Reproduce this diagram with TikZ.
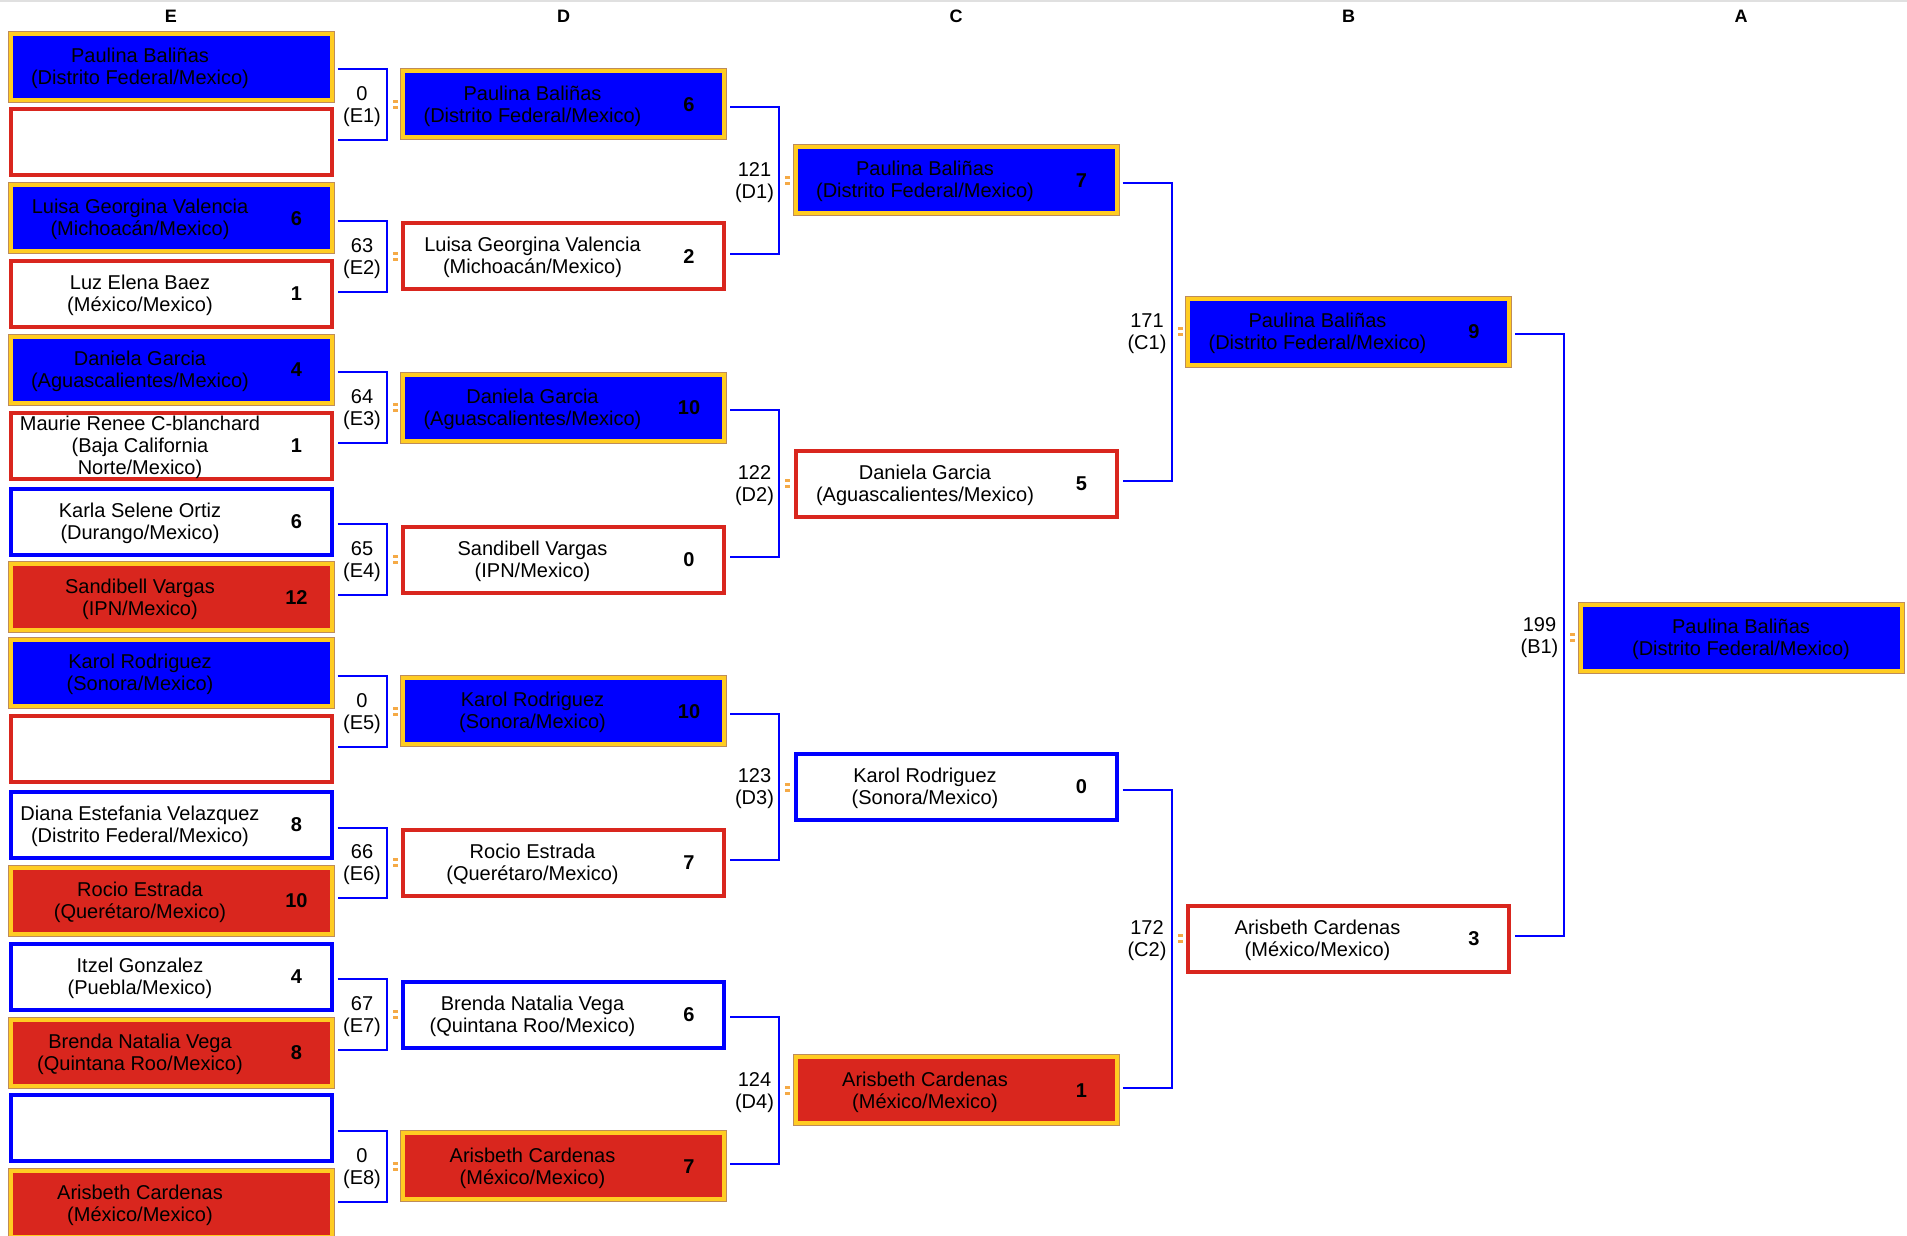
\documentclass[tikz,border=0pt]{standalone}
\usepackage{fontspec}
\setmainfont{Liberation Sans}
\usetikzlibrary{calc}
\definecolor{tkblue}{RGB}{0,0,255}
\definecolor{tkred}{RGB}{217,38,30}
\definecolor{tkgold}{RGB}{255,204,34}
\definecolor{goldedge}{RGB}{190,140,90}
\definecolor{mkorange}{RGB}{245,170,70}
\tikzset{
  box/.style={rectangle, minimum width=321pt, minimum height=66pt, inner sep=0pt, line width=4pt},
  winblue/.style={box, fill=tkblue, draw=tkgold, preaction={draw=goldedge, line width=6pt}},
  winred/.style={box, fill=tkred, draw=tkgold, preaction={draw=goldedge, line width=6pt}},
  loseblue/.style={box, fill=white, draw=tkblue},
  losered/.style={box, fill=white, draw=tkred},
  nm/.style={align=center, inner sep=0pt, font=\fontsize{20}{22}\selectfont, text=black},
  sc/.style={inner sep=0pt, font=\fontsize{20}{22}\selectfont\bfseries, text=black},
  lbl/.style={align=center, inner sep=0pt, font=\fontsize{20}{22}\selectfont, text=black},
  hdr/.style={inner sep=0pt, font=\fontsize{18}{20}\selectfont\bfseries, text=black},
  conn/.style={draw=tkblue, line width=2pt},
  mk/.style={fill=mkorange}
}
\newcommand\plr[6]{%
  \node[#4] (#1) at (#2,#3) {};
  \node[nm] (#1n) at ($(#1.center)+(-31,1.5)$) {#5};
  \node[sc] (#1s) at ($(#1.east)+(-37,0)$) {#6};
}
\newcommand\brk[4]{%
  \draw[conn] ($(#1.east)+(4,2.5)$) -- ($(#1.east)+(53,2.5)$) -- ($(#2.east)+(53,-2.5)$) -- ($(#2.east)+(4,-2.5)$);
  \node[lbl] (#3l) at ($(#1.east)!0.5!(#2.east)+(28.5,2)$) {#4};
  \fill[mk] ($(#3.west)+(-8.5,-4.5)$) rectangle ++(5,3);
  \fill[mk] ($(#3.west)+(-8.5,1.5)$) rectangle ++(5,3);
}
\begin{document}
\begin{tikzpicture}[x=1pt,y=-1pt]
\useasboundingbox (0,0) rectangle (1907,1235);
\fill[white] (0,0) rectangle (1907,1235);
\draw[black!12, line width=1.5pt] (0,0.75) -- (1907,0.75);
% headers
\node[hdr] (hE) at (171,16) {E};
\node[hdr] (hD) at (563.5,16) {D};
\node[hdr] (hC) at (956,16) {C};
\node[hdr] (hB) at (1348.5,16) {B};
\node[hdr] (hA) at (1741,16) {A};
% column E
\plr{E0}{171}{66.5}{winblue}{Paulina Baliñas\\(Distrito Federal/Mexico)}{}
\plr{E1}{171}{142.35}{losered}{}{}
\plr{E2}{171}{218.2}{winblue}{Luisa Georgina Valencia\\(Michoacán/Mexico)}{6}
\plr{E3}{171}{294.05}{losered}{Luz Elena Baez\\(México/Mexico)}{1}
\plr{E4}{171}{369.9}{winblue}{Daniela Garcia\\(Aguascalientes/Mexico)}{4}
\plr{E5}{171}{445.75}{losered}{Maurie Renee C-blanchard\\(Baja California\\Norte/Mexico)}{1}
\plr{E6}{171}{521.6}{loseblue}{Karla Selene Ortiz\\(Durango/Mexico)}{6}
\plr{E7}{171}{597.45}{winred}{Sandibell Vargas\\(IPN/Mexico)}{12}
\plr{E8}{171}{673.3}{winblue}{Karol Rodriguez\\(Sonora/Mexico)}{}
\plr{E9}{171}{749.15}{losered}{}{}
\plr{E10}{171}{825.0}{loseblue}{Diana Estefania Velazquez\\(Distrito Federal/Mexico)}{8}
\plr{E11}{171}{900.85}{winred}{Rocio Estrada\\(Querétaro/Mexico)}{10}
\plr{E12}{171}{976.7}{loseblue}{Itzel Gonzalez\\(Puebla/Mexico)}{4}
\plr{E13}{171}{1052.55}{winred}{Brenda Natalia Vega\\(Quintana Roo/Mexico)}{8}
\plr{E14}{171}{1128.4}{loseblue}{}{}
\plr{E15}{171}{1204.25}{winred}{Arisbeth Cardenas\\(México/Mexico)}{}
% column D
\plr{D0}{563.5}{104.425}{winblue}{Paulina Baliñas\\(Distrito Federal/Mexico)}{6}
\plr{D1}{563.5}{256.125}{losered}{Luisa Georgina Valencia\\(Michoacán/Mexico)}{2}
\plr{D2}{563.5}{407.825}{winblue}{Daniela Garcia\\(Aguascalientes/Mexico)}{10}
\plr{D3}{563.5}{559.525}{losered}{Sandibell Vargas\\(IPN/Mexico)}{0}
\plr{D4}{563.5}{711.225}{winblue}{Karol Rodriguez\\(Sonora/Mexico)}{10}
\plr{D5}{563.5}{862.925}{losered}{Rocio Estrada\\(Querétaro/Mexico)}{7}
\plr{D6}{563.5}{1014.625}{loseblue}{Brenda Natalia Vega\\(Quintana Roo/Mexico)}{6}
\plr{D7}{563.5}{1166.325}{winred}{Arisbeth Cardenas\\(México/Mexico)}{7}
% column C
\plr{C0}{956}{180.275}{winblue}{Paulina Baliñas\\(Distrito Federal/Mexico)}{7}
\plr{C1}{956}{483.675}{losered}{Daniela Garcia\\(Aguascalientes/Mexico)}{5}
\plr{C2}{956}{787.075}{loseblue}{Karol Rodriguez\\(Sonora/Mexico)}{0}
\plr{C3}{956}{1090.475}{winred}{Arisbeth Cardenas\\(México/Mexico)}{1}
% column B
\plr{B0}{1348.5}{331.975}{winblue}{Paulina Baliñas\\(Distrito Federal/Mexico)}{9}
\plr{B1}{1348.5}{938.775}{losered}{Arisbeth Cardenas\\(México/Mexico)}{3}
% column A
\node[winblue] (A0) at (1741,637.5) {};
\node[nm] (A0n) at ($(A0.center)+(0,2)$) {Paulina Baliñas\\(Distrito Federal/Mexico)};
% brackets E -> D
\brk{E0}{E1}{D0}{0\\(E1)}
\brk{E2}{E3}{D1}{63\\(E2)}
\brk{E4}{E5}{D2}{64\\(E3)}
\brk{E6}{E7}{D3}{65\\(E4)}
\brk{E8}{E9}{D4}{0\\(E5)}
\brk{E10}{E11}{D5}{66\\(E6)}
\brk{E12}{E13}{D6}{67\\(E7)}
\brk{E14}{E15}{D7}{0\\(E8)}
% brackets D -> C
\brk{D0}{D1}{C0}{121\\(D1)}
\brk{D2}{D3}{C1}{122\\(D2)}
\brk{D4}{D5}{C2}{123\\(D3)}
\brk{D6}{D7}{C3}{124\\(D4)}
% brackets C -> B
\brk{C0}{C1}{B0}{171\\(C1)}
\brk{C2}{C3}{B1}{172\\(C2)}
% bracket B -> A
\brk{B0}{B1}{A0}{199\\(B1)}
\end{tikzpicture}
\end{document}
